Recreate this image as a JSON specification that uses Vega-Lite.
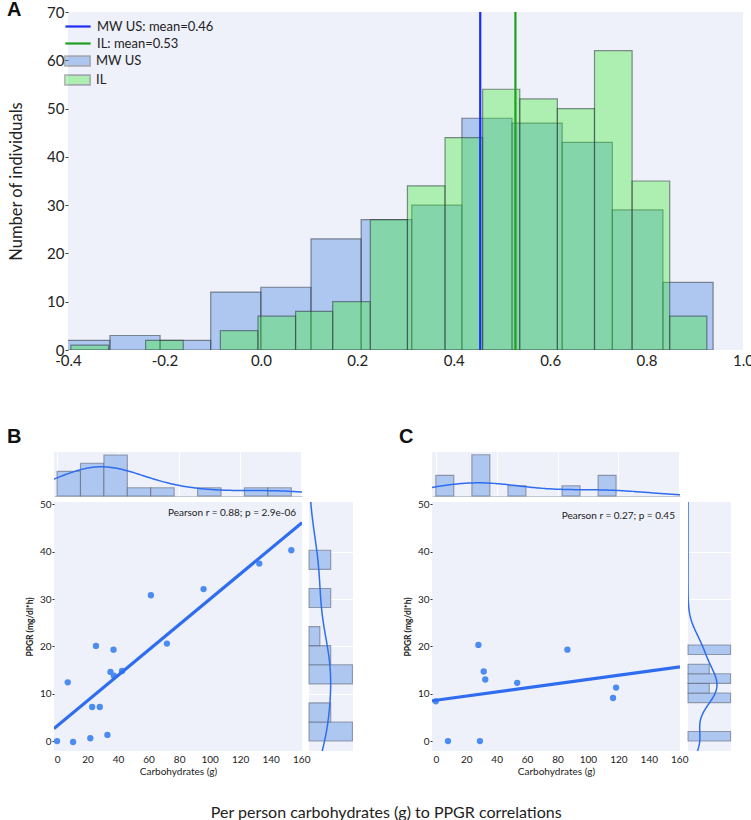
{
  "$schema": "https://vega.github.io/schema/vega-lite/v6.json",
  "background": "white",
  "padding": {"left": 6, "top": 0, "right": 0, "bottom": 0},
  "config": {
    "font": "Lato",
    "view": {"stroke": null},
    "axis": {"labelFont": "Lato", "titleFont": "Lato", "labelColor": "#222", "titleColor": "#222", "titleFontWeight": "normal", "labelOverlap": false}
  },
  "title": {"text": "Per person carbohydrates (g) to PPGR correlations", "orient": "bottom", "anchor": "middle", "font": "Lato", "fontSize": 16, "fontWeight": "normal", "color": "#222", "offset": 29, "dx": 6},
  "datasets": {
    "histA": [
      {"grp": "MW US", "lo": -0.417, "hi": -0.313, "n": 2},
      {"grp": "MW US", "lo": -0.313, "hi": -0.209, "n": 3},
      {"grp": "MW US", "lo": -0.209, "hi": -0.104, "n": 2},
      {"grp": "MW US", "lo": -0.104, "hi": 0.0, "n": 12},
      {"grp": "MW US", "lo": 0.0, "hi": 0.104, "n": 13},
      {"grp": "MW US", "lo": 0.104, "hi": 0.208, "n": 23},
      {"grp": "MW US", "lo": 0.208, "hi": 0.313, "n": 27},
      {"grp": "MW US", "lo": 0.313, "hi": 0.417, "n": 30},
      {"grp": "MW US", "lo": 0.417, "hi": 0.521, "n": 48},
      {"grp": "MW US", "lo": 0.521, "hi": 0.625, "n": 47},
      {"grp": "MW US", "lo": 0.625, "hi": 0.729, "n": 43},
      {"grp": "MW US", "lo": 0.729, "hi": 0.834, "n": 29},
      {"grp": "MW US", "lo": 0.834, "hi": 0.938, "n": 14},
      {"grp": "IL", "lo": -0.394, "hi": -0.316, "n": 1},
      {"grp": "IL", "lo": -0.239, "hi": -0.161, "n": 2},
      {"grp": "IL", "lo": -0.084, "hi": -0.006, "n": 4},
      {"grp": "IL", "lo": -0.006, "hi": 0.072, "n": 7},
      {"grp": "IL", "lo": 0.072, "hi": 0.149, "n": 8},
      {"grp": "IL", "lo": 0.149, "hi": 0.227, "n": 10},
      {"grp": "IL", "lo": 0.227, "hi": 0.304, "n": 27},
      {"grp": "IL", "lo": 0.304, "hi": 0.382, "n": 34},
      {"grp": "IL", "lo": 0.382, "hi": 0.46, "n": 44},
      {"grp": "IL", "lo": 0.46, "hi": 0.537, "n": 54},
      {"grp": "IL", "lo": 0.537, "hi": 0.615, "n": 52},
      {"grp": "IL", "lo": 0.615, "hi": 0.692, "n": 50},
      {"grp": "IL", "lo": 0.692, "hi": 0.77, "n": 62},
      {"grp": "IL", "lo": 0.77, "hi": 0.848, "n": 35},
      {"grp": "IL", "lo": 0.848, "hi": 0.925, "n": 7}
    ],
    "means": [
      {"grp": "MW US: mean=0.46", "m": 0.455},
      {"grp": "IL: mean=0.53", "m": 0.528}
    ],
    "sB": [
      {"carb": 0, "ppgr": 0}, {"carb": 10.5, "ppgr": -0.2}, {"carb": 21.8, "ppgr": 0.6},
      {"carb": 33, "ppgr": 1.3}, {"carb": 7, "ppgr": 12.4}, {"carb": 23, "ppgr": 7.2},
      {"carb": 28, "ppgr": 7.2}, {"carb": 25.5, "ppgr": 20.1}, {"carb": 37, "ppgr": 19.3},
      {"carb": 35, "ppgr": 14.6}, {"carb": 37.2, "ppgr": 13.8}, {"carb": 42.6, "ppgr": 14.8},
      {"carb": 61.5, "ppgr": 30.8}, {"carb": 72, "ppgr": 20.6}, {"carb": 96, "ppgr": 32.1},
      {"carb": 132.5, "ppgr": 37.5}, {"carb": 153.5, "ppgr": 40.3}
    ],
    "sC": [
      {"carb": 0, "ppgr": 8.4}, {"carb": 8, "ppgr": 0}, {"carb": 29, "ppgr": 0},
      {"carb": 28, "ppgr": 20.3}, {"carb": 31.5, "ppgr": 14.7}, {"carb": 32.5, "ppgr": 13},
      {"carb": 53.5, "ppgr": 12.3}, {"carb": 86.5, "ppgr": 19.3}, {"carb": 116.5, "ppgr": 9.1},
      {"carb": 118.5, "ppgr": 11.3}
    ],
    "bxh": [
      {"lo": 0, "hi": 15.35, "n": 3}, {"lo": 15.35, "hi": 30.7, "n": 4}, {"lo": 30.7, "hi": 46.05, "n": 5},
      {"lo": 46.05, "hi": 61.4, "n": 1}, {"lo": 61.4, "hi": 76.75, "n": 1}, {"lo": 92.1, "hi": 107.45, "n": 1},
      {"lo": 122.8, "hi": 138.15, "n": 1}, {"lo": 138.15, "hi": 153.5, "n": 1}
    ],
    "byh": [
      {"lo": 0, "hi": 4.03, "n": 4}, {"lo": 4.03, "hi": 8.06, "n": 2}, {"lo": 12.09, "hi": 16.12, "n": 4},
      {"lo": 16.12, "hi": 20.15, "n": 2}, {"lo": 20.15, "hi": 24.18, "n": 1}, {"lo": 28.21, "hi": 32.24, "n": 2},
      {"lo": 36.27, "hi": 40.3, "n": 2}
    ],
    "cxh": [
      {"lo": 0, "hi": 11.85, "n": 2}, {"lo": 23.7, "hi": 35.55, "n": 4}, {"lo": 47.4, "hi": 59.25, "n": 1},
      {"lo": 82.95, "hi": 94.8, "n": 1}, {"lo": 106.65, "hi": 118.5, "n": 2}
    ],
    "cyh": [
      {"lo": 0, "hi": 2.03, "n": 2}, {"lo": 8.12, "hi": 10.15, "n": 2}, {"lo": 10.15, "hi": 12.18, "n": 1},
      {"lo": 12.18, "hi": 14.21, "n": 2}, {"lo": 14.21, "hi": 16.24, "n": 1}, {"lo": 18.27, "hi": 20.3, "n": 2}
    ]
  },
  "vconcat": [
    {
      "hconcat": [
        {
          "width": 14,
          "height": 338,
          "data": {"values": []},
          "mark": "point"
        },
        {
          "width": 675,
          "height": 338,
          "view": {"fill": "#EEF0FA", "stroke": null},
          "layer": [
            {
              "data": {"name": "histA"},
              "transform": [{"filter": "datum.grp === 'MW US'"}],
              "mark": {"type": "rect", "clip": true, "fillOpacity": 0.375, "stroke": "#30363f", "strokeOpacity": 0.55, "strokeWidth": 1.2},
              "encoding": {
                "x": {"field": "lo", "type": "quantitative", "scale": {"domain": [-0.4, 1.0], "nice": false, "zero": false},
                  "axis": {"values": [-0.4, -0.2, 0, 0.2, 0.4, 0.6, 0.8, 1.0], "labelExpr": "replace(format(datum.value, '.1f'), '\u2212', '-')", "labelFontSize": 15, "ticks": false, "labelPadding": 3, "labelFlush": false, "labelOverlap": false, "domain": false, "grid": false, "title": null}},
                "x2": {"field": "hi"},
                "y": {"field": "n", "type": "quantitative", "scale": {"domain": [0, 70], "nice": false},
                  "axis": {"values": [0, 10, 20, 30, 40, 50, 60, 70], "labelFontSize": 15, "tickSize": 3, "tickColor": "#444", "labelPadding": 1, "labelOverlap": false, "domain": false, "grid": false, "title": "Number of individuals", "titleFontSize": 16.5, "titlePadding": 22}},
                "y2": {"datum": 0},
                "fill": {"field": "grp", "type": "nominal",
                  "scale": {"domain": ["MW US", "IL"], "range": ["#4383DF", "#41ED35"]},
                  "legend": {
                    "orient": "none", "legendX": 15.5, "legendY": 41, "direction": "vertical", "title": null,
                    "labelFont": "Lato", "labelFontSize": 13, "labelColor": "#222",
                    "symbolSize": 196, "rowPadding": 1, "labelOffset": 10.5, "padding": 0,
                    "symbolType": "M-1.8,-0.7H1.8V0.7H-1.8Z",
                    "symbolOpacity": 0.375, "symbolStrokeColor": "#30363f", "symbolStrokeWidth": 1.6
                  }}
              }
            },
            {
              "data": {"name": "histA"},
              "transform": [{"filter": "datum.grp === 'IL'"}],
              "mark": {"type": "rect", "clip": true, "fillOpacity": 0.375, "stroke": "#30363f", "strokeOpacity": 0.55, "strokeWidth": 1.2},
              "encoding": {
                "x": {"field": "lo", "type": "quantitative"},
                "x2": {"field": "hi"},
                "y": {"field": "n", "type": "quantitative"},
                "y2": {"datum": 0},
                "fill": {"field": "grp", "type": "nominal"}
              }
            },
            {
              "data": {"name": "means"},
              "mark": {"type": "rule", "strokeWidth": 2.2},
              "encoding": {
                "x": {"field": "m", "type": "quantitative"},
                "stroke": {"field": "grp", "type": "nominal",
                  "scale": {"domain": ["MW US: mean=0.46", "IL: mean=0.53"], "range": ["#1b2df5", "#1f9e1f"]},
                  "legend": {
                    "orient": "none", "legendX": 15.5, "legendY": 6, "direction": "vertical", "title": null,
                    "labelFont": "Lato", "labelFontSize": 13, "labelColor": "#222",
                    "symbolSize": 196, "rowPadding": 1, "labelOffset": 10.5, "padding": 0,
                    "symbolType": "M-1.8,0H1.8", "symbolStrokeWidth": 2.2
                  }}
              }
            },
            {
              "data": {"values": [{"t": "A"}]},
              "mark": {"type": "text", "align": "left", "baseline": "alphabetic", "font": "Liberation Sans", "fontSize": 20, "fontWeight": "bold", "color": "#111"},
              "encoding": {
                "x": {"datum": -0.5266, "type": "quantitative"},
                "y": {"datum": 69.17, "type": "quantitative"},
                "text": {"field": "t"}
              }
            }
          ]
        }
      ],
      "spacing": 0,
      "bounds": "flush"
    },
    {
      "hconcat": [
        {
          "vconcat": [
            {
              "width": 248, "height": 44,
              "view": {"fill": "#EEF0FA", "stroke": null},
              "layer": [
                {
                  "data": {"name": "bxh"},
                  "mark": {"type": "rect", "color": "#AEC7F0", "stroke": "#4a5060", "strokeOpacity": 0.5, "strokeWidth": 1.1},
                  "encoding": {
                    "x": {"field": "lo", "type": "quantitative", "scale": {"domain": [-2, 160.5], "nice": false, "zero": false},
                      "axis": {"values": [0, 20, 40, 60, 80, 100, 120, 140, 160], "grid": true, "gridColor": "#ffffff", "gridWidth": 1.2, "labels": false, "ticks": false, "domain": true, "domainColor": "#c5c8d2", "title": null}},
                    "x2": {"field": "hi"},
                    "y": {"field": "n", "type": "quantitative", "scale": {"domain": [0, 5.37], "nice": false}, "axis": null},
                    "y2": {"datum": 0}
                  }
                },
                {
                  "data": {"name": "sB"},
                  "transform": [{"density": "carb", "bandwidth": 24.4, "extent": [-40, 200], "steps": 200}],
                  "mark": {"type": "line", "color": "#2F6DF0", "strokeWidth": 1.5, "clip": true},
                  "encoding": {
                    "x": {"field": "value", "type": "quantitative"},
                    "y": {"field": "density", "type": "quantitative", "scale": {"domain": [0, 0.0162], "nice": false}, "axis": null}
                  }
                }
              ],
              "resolve": {"scale": {"y": "independent"}}
            },
            {
              "hconcat": [
                {
                  "width": 248, "height": 249,
                  "view": {"fill": "#EEF0FA", "stroke": null},
                  "layer": [
                    {
                      "data": {"name": "sB"},
                      "mark": {"type": "circle", "size": 40, "color": "#4C8CF0", "opacity": 1},
                      "encoding": {
                        "x": {"field": "carb", "type": "quantitative", "scale": {"domain": [-2, 160.5], "nice": false, "zero": false},
                          "axis": {"values": [0, 20, 40, 60, 80, 100, 120, 140, 160], "labelFontSize": 10, "ticks": false, "labelPadding": 3, "labelFlush": false, "labelOverlap": false, "domain": false, "grid": false, "title": "Carbohydrates (g)", "titleFontSize": 10, "titlePadding": 2}},
                        "y": {"field": "ppgr", "type": "quantitative", "scale": {"domain": [-2.1, 50.5], "nice": false, "zero": false},
                          "axis": {"values": [0, 10, 20, 30, 40, 50], "labelFontSize": 10, "tickSize": 2, "tickColor": "#333", "labelPadding": 1, "labelOverlap": false, "domain": false, "grid": false, "title": "PPGR (mg/dl*h)", "titleFontSize": 8.5, "titleFontWeight": "bold", "titlePadding": 5}}
                      }
                    },
                    {
                      "data": {"name": "sB"},
                      "transform": [{"regression": "ppgr", "on": "carb", "extent": [-2, 160.5]}],
                      "mark": {"type": "line", "color": "#2F6DF0", "strokeWidth": 3.2, "clip": true},
                      "encoding": {
                        "x": {"field": "carb", "type": "quantitative",
                          "axis": {"values": [0, 20, 40, 60, 80, 100, 120, 140, 160], "labelFontSize": 10, "ticks": false, "labelPadding": 3, "labelFlush": false, "labelOverlap": false, "domain": false, "grid": false, "title": "Carbohydrates (g)", "titleFontSize": 10, "titlePadding": 2}},
                        "y": {"field": "ppgr", "type": "quantitative",
                          "axis": {"values": [0, 10, 20, 30, 40, 50], "labelFontSize": 10, "tickSize": 2, "tickColor": "#333", "labelPadding": 1, "labelOverlap": false, "domain": false, "grid": false, "title": "PPGR (mg/dl*h)", "titleFontSize": 8.5, "titleFontWeight": "bold", "titlePadding": 5}}
                      }
                    },
                    {
                      "data": {"values": [{"t": "Pearson r = 0.88; p = 2.9e-06"}]},
                      "mark": {"type": "text", "align": "right", "baseline": "middle", "font": "Lato", "fontSize": 10, "color": "#222"},
                      "encoding": {
                        "x": {"datum": 156.6, "type": "quantitative",
                          "axis": {"values": [0, 20, 40, 60, 80, 100, 120, 140, 160], "labelFontSize": 10, "ticks": false, "labelPadding": 3, "labelFlush": false, "labelOverlap": false, "domain": false, "grid": false, "title": "Carbohydrates (g)", "titleFontSize": 10, "titlePadding": 2}},
                        "y": {"datum": 48.18, "type": "quantitative",
                          "axis": {"values": [0, 10, 20, 30, 40, 50], "labelFontSize": 10, "tickSize": 2, "tickColor": "#333", "labelPadding": 1, "labelOverlap": false, "domain": false, "grid": false, "title": "PPGR (mg/dl*h)", "titleFontSize": 8.5, "titleFontWeight": "bold", "titlePadding": 5}},
                        "text": {"field": "t"}
                      }
                    },
                    {
                      "data": {"values": [{"t": "B"}]},
                      "mark": {"type": "text", "align": "left", "baseline": "alphabetic", "font": "Liberation Sans", "fontSize": 20, "fontWeight": "bold", "color": "#111"},
                      "encoding": {
                        "x": {"datum": -32.8, "type": "quantitative",
                          "axis": {"values": [0, 20, 40, 60, 80, 100, 120, 140, 160], "labelFontSize": 10, "ticks": false, "labelPadding": 3, "labelFlush": false, "labelOverlap": false, "domain": false, "grid": false, "title": "Carbohydrates (g)", "titleFontSize": 10, "titlePadding": 2}},
                        "y": {"datum": 62.96, "type": "quantitative",
                          "axis": {"values": [0, 10, 20, 30, 40, 50], "labelFontSize": 10, "tickSize": 2, "tickColor": "#333", "labelPadding": 1, "labelOverlap": false, "domain": false, "grid": false, "title": "PPGR (mg/dl*h)", "titleFontSize": 8.5, "titleFontWeight": "bold", "titlePadding": 5}},
                        "text": {"field": "t"}
                      }
                    }
                  ]
                },
                {
                  "width": 44, "height": 249,
                  "view": {"fill": "#EEF0FA", "stroke": null},
                  "layer": [
                    {
                      "data": {"name": "byh"},
                      "mark": {"type": "rect", "color": "#AEC7F0", "stroke": "#4a5060", "strokeOpacity": 0.5, "strokeWidth": 1.1},
                      "encoding": {
                        "y": {"field": "lo", "type": "quantitative", "scale": {"domain": [-2.1, 50.5], "nice": false, "zero": false},
                          "axis": {"values": [10, 20, 30, 40], "grid": true, "gridColor": "#ffffff", "gridWidth": 1.2, "labels": false, "ticks": false, "domain": false, "title": null}},
                        "y2": {"field": "hi"},
                        "x": {"field": "n", "type": "quantitative", "scale": {"domain": [0, 4.05], "nice": false}, "axis": null},
                        "x2": {"datum": 0}
                      }
                    },
                    {
                      "data": {"name": "sB"},
                      "transform": [{"density": "ppgr", "bandwidth": 7.4, "extent": [-12, 62], "steps": 200}],
                      "mark": {"type": "line", "color": "#2F6DF0", "strokeWidth": 1.5, "clip": true},
                      "encoding": {
                        "y": {"field": "value", "type": "quantitative"},
                        "x": {"field": "density", "type": "quantitative", "scale": {"domain": [0, 0.054], "nice": false}, "axis": null},
                        "order": {"field": "value", "type": "quantitative"}
                      }
                    }
                  ],
                  "resolve": {"scale": {"x": "independent"}}
                }
              ],
              "spacing": 7,
              "bounds": "flush"
            }
          ],
          "spacing": 6,
          "bounds": "flush"
        },
        {
          "vconcat": [
            {
              "width": 248, "height": 44,
              "view": {"fill": "#EEF0FA", "stroke": null},
              "layer": [
                {
                  "data": {"name": "cxh"},
                  "mark": {"type": "rect", "color": "#AEC7F0", "stroke": "#4a5060", "strokeOpacity": 0.5, "strokeWidth": 1.1},
                  "encoding": {
                    "x": {"field": "lo", "type": "quantitative", "scale": {"domain": [-2.5, 160.5], "nice": false, "zero": false},
                      "axis": {"values": [0, 20, 40, 60, 80, 100, 120, 140, 160], "grid": true, "gridColor": "#ffffff", "gridWidth": 1.2, "labels": false, "ticks": false, "domain": true, "domainColor": "#c5c8d2", "title": null}},
                    "x2": {"field": "hi"},
                    "y": {"field": "n", "type": "quantitative", "scale": {"domain": [0, 4.27], "nice": false}, "axis": null},
                    "y2": {"datum": 0}
                  }
                },
                {
                  "data": {"name": "sC"},
                  "transform": [{"density": "carb", "bandwidth": 26.9, "extent": [-40, 200], "steps": 200}],
                  "mark": {"type": "line", "color": "#2F6DF0", "strokeWidth": 1.5, "clip": true},
                  "encoding": {
                    "x": {"field": "value", "type": "quantitative"},
                    "y": {"field": "density", "type": "quantitative", "scale": {"domain": [0, 0.030], "nice": false}, "axis": null}
                  }
                }
              ],
              "resolve": {"scale": {"y": "independent"}}
            },
            {
              "hconcat": [
                {
                  "width": 248, "height": 249,
                  "view": {"fill": "#EEF0FA", "stroke": null},
                  "layer": [
                    {
                      "data": {"name": "sC"},
                      "mark": {"type": "circle", "size": 40, "color": "#4C8CF0", "opacity": 1},
                      "encoding": {
                        "x": {"field": "carb", "type": "quantitative", "scale": {"domain": [-2.5, 160.5], "nice": false, "zero": false},
                          "axis": {"values": [0, 20, 40, 60, 80, 100, 120, 140, 160], "labelFontSize": 10, "ticks": false, "labelPadding": 3, "labelFlush": false, "labelOverlap": false, "domain": false, "grid": false, "title": "Carbohydrates (g)", "titleFontSize": 10, "titlePadding": 2}},
                        "y": {"field": "ppgr", "type": "quantitative", "scale": {"domain": [-2.1, 50.5], "nice": false, "zero": false},
                          "axis": {"values": [0, 10, 20, 30, 40, 50], "labelFontSize": 10, "tickSize": 2, "tickColor": "#333", "labelPadding": 1, "labelOverlap": false, "domain": false, "grid": false, "title": "PPGR (mg/dl*h)", "titleFontSize": 8.5, "titleFontWeight": "bold", "titlePadding": 5}}
                      }
                    },
                    {
                      "data": {"name": "sC"},
                      "transform": [{"regression": "ppgr", "on": "carb", "extent": [-2.5, 160.5]}],
                      "mark": {"type": "line", "color": "#2F6DF0", "strokeWidth": 3.2, "clip": true},
                      "encoding": {
                        "x": {"field": "carb", "type": "quantitative",
                          "axis": {"values": [0, 20, 40, 60, 80, 100, 120, 140, 160], "labelFontSize": 10, "ticks": false, "labelPadding": 3, "labelFlush": false, "labelOverlap": false, "domain": false, "grid": false, "title": "Carbohydrates (g)", "titleFontSize": 10, "titlePadding": 2}},
                        "y": {"field": "ppgr", "type": "quantitative",
                          "axis": {"values": [0, 10, 20, 30, 40, 50], "labelFontSize": 10, "tickSize": 2, "tickColor": "#333", "labelPadding": 1, "labelOverlap": false, "domain": false, "grid": false, "title": "PPGR (mg/dl*h)", "titleFontSize": 8.5, "titleFontWeight": "bold", "titlePadding": 5}}
                      }
                    },
                    {
                      "data": {"values": [{"t": "Pearson r = 0.27; p = 0.45"}]},
                      "mark": {"type": "text", "align": "right", "baseline": "middle", "font": "Lato", "fontSize": 10, "color": "#222"},
                      "encoding": {
                        "x": {"datum": 157.2, "type": "quantitative",
                          "axis": {"values": [0, 20, 40, 60, 80, 100, 120, 140, 160], "labelFontSize": 10, "ticks": false, "labelPadding": 3, "labelFlush": false, "labelOverlap": false, "domain": false, "grid": false, "title": "Carbohydrates (g)", "titleFontSize": 10, "titlePadding": 2}},
                        "y": {"datum": 47.54, "type": "quantitative",
                          "axis": {"values": [0, 10, 20, 30, 40, 50], "labelFontSize": 10, "tickSize": 2, "tickColor": "#333", "labelPadding": 1, "labelOverlap": false, "domain": false, "grid": false, "title": "PPGR (mg/dl*h)", "titleFontSize": 8.5, "titleFontWeight": "bold", "titlePadding": 5}},
                        "text": {"field": "t"}
                      }
                    },
                    {
                      "data": {"values": [{"t": "C"}]},
                      "mark": {"type": "text", "align": "left", "baseline": "alphabetic", "font": "Liberation Sans", "fontSize": 20, "fontWeight": "bold", "color": "#111"},
                      "encoding": {
                        "x": {"datum": -24.2, "type": "quantitative",
                          "axis": {"values": [0, 20, 40, 60, 80, 100, 120, 140, 160], "labelFontSize": 10, "ticks": false, "labelPadding": 3, "labelFlush": false, "labelOverlap": false, "domain": false, "grid": false, "title": "Carbohydrates (g)", "titleFontSize": 10, "titlePadding": 2}},
                        "y": {"datum": 62.96, "type": "quantitative",
                          "axis": {"values": [0, 10, 20, 30, 40, 50], "labelFontSize": 10, "tickSize": 2, "tickColor": "#333", "labelPadding": 1, "labelOverlap": false, "domain": false, "grid": false, "title": "PPGR (mg/dl*h)", "titleFontSize": 8.5, "titleFontWeight": "bold", "titlePadding": 5}},
                        "text": {"field": "t"}
                      }
                    }
                  ]
                },
                {
                  "width": 43, "height": 249,
                  "view": {"fill": "#EEF0FA", "stroke": null},
                  "layer": [
                    {
                      "data": {"name": "cyh"},
                      "mark": {"type": "rect", "color": "#AEC7F0", "stroke": "#4a5060", "strokeOpacity": 0.5, "strokeWidth": 1.1},
                      "encoding": {
                        "y": {"field": "lo", "type": "quantitative", "scale": {"domain": [-2.1, 50.5], "nice": false, "zero": false},
                          "axis": {"values": [10, 20, 30, 40], "grid": true, "gridColor": "#ffffff", "gridWidth": 1.2, "labels": false, "ticks": false, "domain": false, "title": null}},
                        "y2": {"field": "hi"},
                        "x": {"field": "n", "type": "quantitative", "scale": {"domain": [0, 2.02], "nice": false}, "axis": null},
                        "x2": {"datum": 0}
                      }
                    },
                    {
                      "data": {"name": "sC"},
                      "transform": [{"density": "ppgr", "bandwidth": 3.6, "extent": [-12, 62], "steps": 250}],
                      "mark": {"type": "line", "color": "#2F6DF0", "strokeWidth": 1.5, "clip": true},
                      "encoding": {
                        "y": {"field": "value", "type": "quantitative"},
                        "x": {"field": "density", "type": "quantitative", "scale": {"domain": [0, 0.086], "nice": false}, "axis": null},
                        "order": {"field": "value", "type": "quantitative"}
                      }
                    }
                  ],
                  "resolve": {"scale": {"x": "independent"}}
                }
              ],
              "spacing": 8,
              "bounds": "flush"
            }
          ],
          "spacing": 6,
          "bounds": "flush"
        }
      ],
      "spacing": 44,
      "bounds": "full"
    }
  ],
  "spacing": 59,
  "bounds": "full"
}
